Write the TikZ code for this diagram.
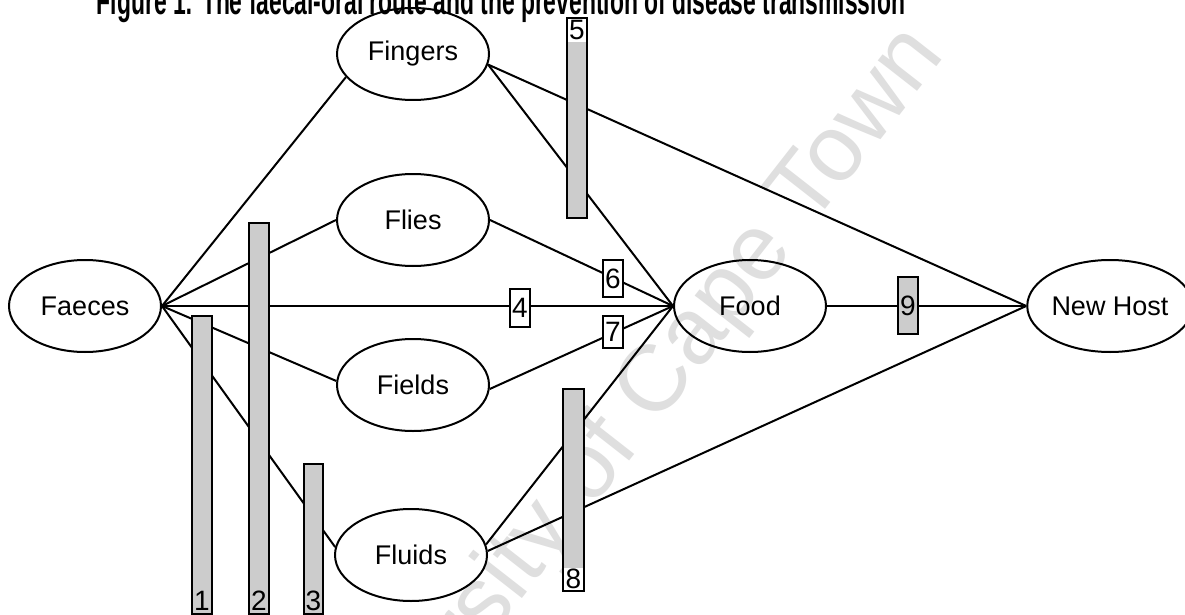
\documentclass[tikz,border=0pt]{standalone}
\usepackage{fontspec}
\setmainfont{Liberation Sans}
\usetikzlibrary{shapes.geometric}
\begin{document}
\begin{tikzpicture}[x=1pt,y=-1pt,
  place/.style={ellipse,draw,line width=2pt,inner sep=0pt,
    minimum width=152pt,minimum height=92pt,font=\fontsize{27}{27}\selectfont},
  link/.style={line width=2pt},
  barrier/.style={rectangle,draw,line width=2pt,fill=gray!40,inner sep=0pt,minimum width=20pt},
  tag/.style={rectangle,draw,line width=2pt,fill=white,inner sep=0pt,minimum width=20pt,
    font=\fontsize{28}{28}\selectfont},
  digit/.style={inner sep=0pt,font=\fontsize{28}{28}\selectfont}]
\useasboundingbox (0,0) rectangle (1185,615);
\clip (0,0) rectangle (1185,615);
\fill[white] (0,0) rectangle (1185,615);

% watermark
\node[rotate=52,text=gray!25,inner sep=0pt,font=\fontsize{94}{94}\selectfont] (wm) at (615,440) {University of Cape Town};

% caption, cut by the top edge
\node[anchor=base,inner sep=0pt,font=\bfseries\fontsize{23}{23}\selectfont] (title) at (501,15)
  {\resizebox{808pt}{!}{\scalebox{1}[1.7]{Figure 1: The faecal-oral route and the prevention of disease transmission}}};

% the six stages
\node[place] (faeces)  at (85,306)   {Faeces};
\node[place] (fingers) at (413,54)   {Fingers};
\node[place] (flies)   at (413,220)  {Flies};
\node[place] (fields)  at (413,385)  {Fields};
\node[place] (fluids)  at (411,555)  {Fluids};
\node[place] (food)    at (750,306)  {Food};
\node[place] (host)    at (1110,306) {New Host};

% routes
\draw[link] (faeces.east) -- (fingers.199);
\draw[link] (faeces.east) -- (flies.west);
\draw[link] (faeces.east) -- (food.west);
\draw[link] (faeces.east) -- (fields.177);
\draw[link] (faeces.east) -- (fluids.174);
\draw[link] (fingers.352) -- (host.west);
\draw[link] (fingers.352) -- (food.west);
\draw[link] (flies.east) -- (food.west);
\draw[link] (fields.357) -- (food.west);
\draw[link] (fluids.8) -- (food.west);
\draw[link] (fluids.3) -- (host.west);
\draw[link] (food.east) -- (host.west);

% barriers
\node[barrier,minimum height=298pt] (b1) at (202,465) {};
\node[digit] (n1) at (202,601) {1};
\node[barrier,minimum height=391pt] (b2) at (259,418.5) {};
\node[digit] (n2) at (259,601) {2};
\node[barrier,minimum width=19pt,minimum height=150pt] (b3) at (313.5,539) {};
\node[digit] (n3) at (313.5,601) {3};
\node[barrier,minimum height=200pt] (b5) at (577,118) {};
\fill[white] (568,19) rectangle (586,42);
\node[digit] (n5) at (577,30) {5};
\node[barrier,minimum width=21pt,minimum height=202pt] (b8) at (573.5,490) {};
\fill[white] (564,568) rectangle (583,590);
\node[digit] (n8) at (573.5,579) {8};
\node[tag,minimum height=38pt] (b4) at (520,308) {4};
\node[tag,minimum height=37pt] (b6) at (613,278.5) {6};
\node[tag,minimum height=32pt] (b7) at (613,331.5) {7};
\node[tag,fill=gray!40,minimum height=57pt] (b9) at (908,305.5) {9};
\end{tikzpicture}
\end{document}
